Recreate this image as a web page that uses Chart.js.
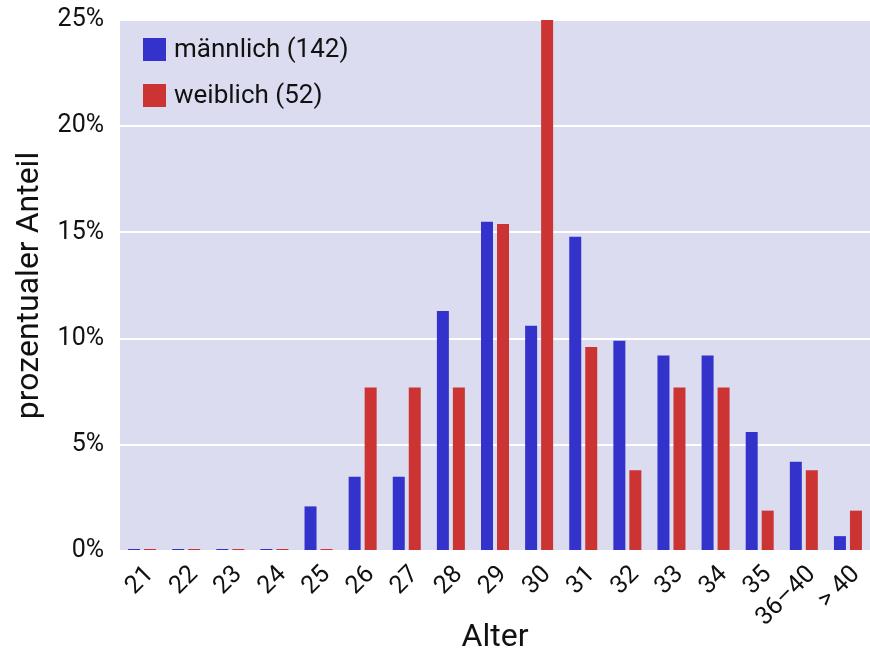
<!DOCTYPE html>
<html>
<head>
<meta charset="utf-8">
<script src="https://cdn.jsdelivr.net/npm/chart.js@4/dist/chart.umd.min.js"></script>
<style>
  html, body { margin: 0; padding: 0; background: #fff; }
  #wrap { width: 870px; height: 653px; }
</style>
</head>
<body>
<div id="wrap"><canvas id="chart"></canvas></div>
<script>
// Age groups and share per group (percent)
const ageLabels = ['21', '22', '23', '24', '25', '26', '27', '28', '29', '30', '31', '32', '33', '34', '35', '36\u201340', '> 40'];
const maleShare = [0, 0, 0, 0, 2.1, 3.5, 3.5, 11.3, 15.5, 10.6, 14.8, 9.9, 9.2, 9.2, 5.6, 4.2, 0.7];
const femaleShare = [0, 0, 0, 0, 0, 7.7, 7.7, 7.7, 15.4, 25.0, 9.6, 3.8, 7.7, 7.7, 1.9, 3.8, 1.9];
const seriesNames = ['männlich (142)', 'weiblich (52)'];
const yTicks = [0, 5, 10, 15, 20, 25];

const FONT = 'Roboto, "Noto Sans", sans-serif';

// Fill the plot area and draw the legend inside it
const plotBackground = {
    id: 'plotBackground',
    beforeDraw(chart) {
        const { ctx, chartArea: a } = chart;
        ctx.save();
        ctx.fillStyle = '#dcdcf0';
        ctx.fillRect(a.left, a.top, a.right - a.left, a.bottom - a.top);
        ctx.restore();
    },
    afterDatasetsDraw(chart) {
        const { ctx, chartArea: a } = chart;
        ctx.save();
        ctx.font = '26px ' + FONT;
        ctx.textBaseline = 'middle';
        chart.data.datasets.forEach((ds, i) => {
            const y = a.top + 18 + i * 46;
            ctx.fillStyle = ds.backgroundColor;
            ctx.fillRect(a.left + 23, y, 23, 23);
            ctx.fillStyle = '#111';
            ctx.fillText(ds.label, a.left + 54, y + 12);
        });
        ctx.restore();
    }
};

new Chart(document.getElementById('chart'), {
    type: 'bar',
    data: {
        labels: ageLabels,
        datasets: [
            { label: seriesNames[0], data: maleShare, backgroundColor: '#3333cc' },
            { label: seriesNames[1], data: femaleShare, backgroundColor: '#cc3333' }
        ]
    },
    options: {
        responsive: true,
        maintainAspectRatio: false,
        animation: false,
        layout: { padding: { top: 20, right: 0, left: 0, bottom: 0 } },
        datasets: { bar: { categoryPercentage: 0.725, barPercentage: 0.75, minBarLength: 2, clip: false } },
        plugins: {
            legend: { display: false },
            tooltip: { enabled: false }
        },
        scales: {
            x: {
                grid: { display: false, drawTicks: false },
                border: { display: false },
                ticks: {
                    color: '#111',
                    font: { size: 25, family: FONT },
                    minRotation: 45,
                    maxRotation: 45,
                    padding: 9,
                    labelOffset: 8,
                    autoSkip: false
                },
                title: {
                    display: true,
                    text: 'Alter',
                    color: '#111',
                    font: { size: 32, family: FONT },
                    padding: { top: 0, bottom: -4 }
                },
                afterFit(scale) {
                    scale.height = 102;
                    scale.paddingLeft = 0;
                    scale.paddingRight = 0;
                }
            },
            y: {
                min: 0,
                max: 25,
                afterBuildTicks(scale) { scale.ticks = yTicks.map(v => ({ value: v })); },
                grid: { color: '#ffffff', lineWidth: 2, drawTicks: false },
                border: { display: false },
                ticks: {
                    color: '#111',
                    font: { size: 25, family: FONT },
                    padding: 16,
                    callback: v => v + '%'
                },
                title: {
                    display: true,
                    text: 'prozentualer Anteil',
                    color: '#111',
                    font: { size: 32, family: FONT },
                    padding: { top: 11, bottom: 0 }
                },
                afterFit(scale) {
                    scale.width = 120;
                    scale.paddingTop = 0;
                    scale.paddingBottom = 0;
                }
            }
        }
    },
    plugins: [plotBackground]
});
</script>
</body>
</html>
